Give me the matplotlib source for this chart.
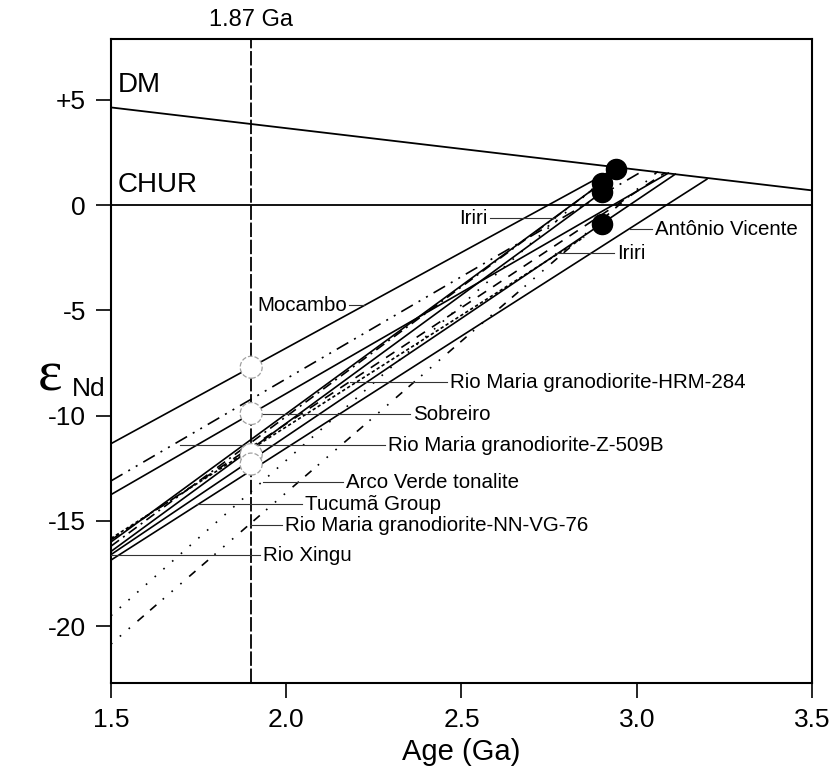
import matplotlib.pyplot as plt
import numpy as np

plt.rcParams['font.family'] = ['Liberation Sans', 'DejaVu Sans']

# depleted mantle line, read at the two ends of the age axis
dm_age = [1.5, 3.5]
dm_eps = [4.64, 0.70]

# 1.87 Ga reference (where the line sits on the plot)
ref_age = 1.9

# evolution lines: eps Nd at 1.5 Ga and the upper end point
line_start_eps = [-11.33, -13.1, -13.75, -15.9, -16.2, -16.0, -16.45, -15.83, -16.6, -16.86, -19.5, -20.85]
line_end_age = [2.94, 3.02, 3.09, 3.08, 2.90, 2.90, 2.90, 2.85, 3.11, 3.20, 2.94, 3.06]
line_end_eps = [1.75, 1.65, 1.52, 1.53, 1.05, 1.05, 0.60, -1.52, 1.47, 1.23, 1.75, 1.60]
line_kind = ['solid', 'dashdotdot', 'solid', 'dash', 'dashdot', 'solid', 'solid',
             'finedash', 'solid', 'solid', 'dotted', 'dotdash']

# samples
open_age = [1.9, 1.9, 1.9, 1.9]
open_eps = [-7.7, -9.9, -11.85, -12.3]
dot_age = [2.94, 2.90, 2.90, 2.90]
dot_eps = [1.70, 1.05, 0.60, -0.90]

# labels with leader start / end (age) and eps level
label_text = ['Mocambo', 'Iriri', 'Antônio Vicente', 'Iriri',
              'Rio Maria granodiorite-HRM-284', 'Sobreiro',
              'Rio Maria granodiorite-Z-509B', 'Arco Verde tonalite',
              'Tucumã Group', 'Rio Maria granodiorite-NN-VG-76', 'Rio Xingu']
label_side = ['left', 'left', 'right', 'right', 'right', 'right', 'right', 'right', 'right', 'right', 'right']
leader_x0 = [2.179, 2.581, 2.981, 2.767, 2.182, 1.911, 1.697, 1.934, 1.745, 1.897, 1.500]
leader_x1 = [2.222, 2.767, 3.044, 2.935, 2.459, 2.353, 2.282, 2.162, 2.045, 1.988, 1.925]
leader_y = [-4.75, -0.62, -1.14, -2.28, -8.41, -9.93, -11.40, -13.16, -14.20, -15.20, -16.63]

styles = {
    'solid': '-',
    'dashdotdot': (0, (8, 4, 1.2, 4, 1.2, 4)),
    'dash': (0, (6, 5)),
    'dashdot': (0, (6, 3, 1.2, 3)),
    'finedash': (0, (2, 1.5)),
    'dotted': (0, (1, 6)),
    'dotdash': (0, (1, 6, 1, 6, 1, 6, 5, 5, 5, 5)),
}

fig = plt.figure(figsize=(8.39, 7.71), dpi=100)
fig.patch.set_facecolor('white')
ax = fig.add_axes([0.1323, 0.1141, 0.8355, 0.8353])

ax.axhline(0, color='black', lw=1.3, zorder=2)
ax.plot(dm_age, dm_eps, color='black', lw=1.3, zorder=2)
ax.axvline(ref_age, color='black', lw=1.3, dashes=(8, 1.5), zorder=2)

for s, xe, ye, k in zip(line_start_eps, line_end_age, line_end_eps, line_kind):
    ax.plot([1.5, xe], [s, ye], color='black', lw=1.2, linestyle=styles[k], zorder=3)

ax.scatter(open_age, open_eps, s=250, facecolor='white', edgecolor='#a0a0a0',
           linewidths=0.9, linestyles='--', zorder=5)
ax.scatter(dot_age, dot_eps, s=210, color='black', zorder=6)

for t, side, x0, x1, y in zip(label_text, label_side, leader_x0, leader_x1, leader_y):
    ax.plot([x0, x1], [y, y], color='#333333', lw=0.8, zorder=4)
    if side == 'left':
        ax.text(x0 - 0.006, y, t, ha='right', va='center', fontsize=14.8, zorder=7)
    else:
        ax.text(x1 + 0.008, y, t, ha='left', va='center', fontsize=14.8, zorder=7)

ax.text(1.52, 5.7, 'DM', fontsize=20, va='center')
ax.text(1.52, 0.95, 'CHUR', fontsize=20, va='center')
ax.text(ref_age, 1.012, '1.87 Ga', fontsize=17, ha='center', va='bottom',
        transform=ax.get_xaxis_transform())

ax.set_xlim(1.5, 3.5)
ax.set_ylim(-22.7, 7.89)
ax.set_xticks([1.5, 2.0, 2.5, 3.0, 3.5])
ax.set_xticklabels(['1.5', '2.0', '2.5', '3.0', '3.5'])
ax.set_yticks([5, 0, -5, -10, -15, -20])
ax.set_yticklabels(['+5', '0', '-5', '-10', '-15', '-20'])
ax.tick_params(direction='out', length=11, width=1.2, labelsize=19, pad=7)
for sp in ax.spines.values():
    sp.set_linewidth(1.5)

ax.set_xlabel('Age (Ga)', fontsize=21, labelpad=4)
fig.text(0.045, 0.512, 'ε', fontsize=42, family='Liberation Serif', ha='left', va='center')
fig.text(0.086, 0.496, 'Nd', fontsize=19, ha='left', va='center')

fig.savefig('out.png', dpi=100, facecolor='white')
